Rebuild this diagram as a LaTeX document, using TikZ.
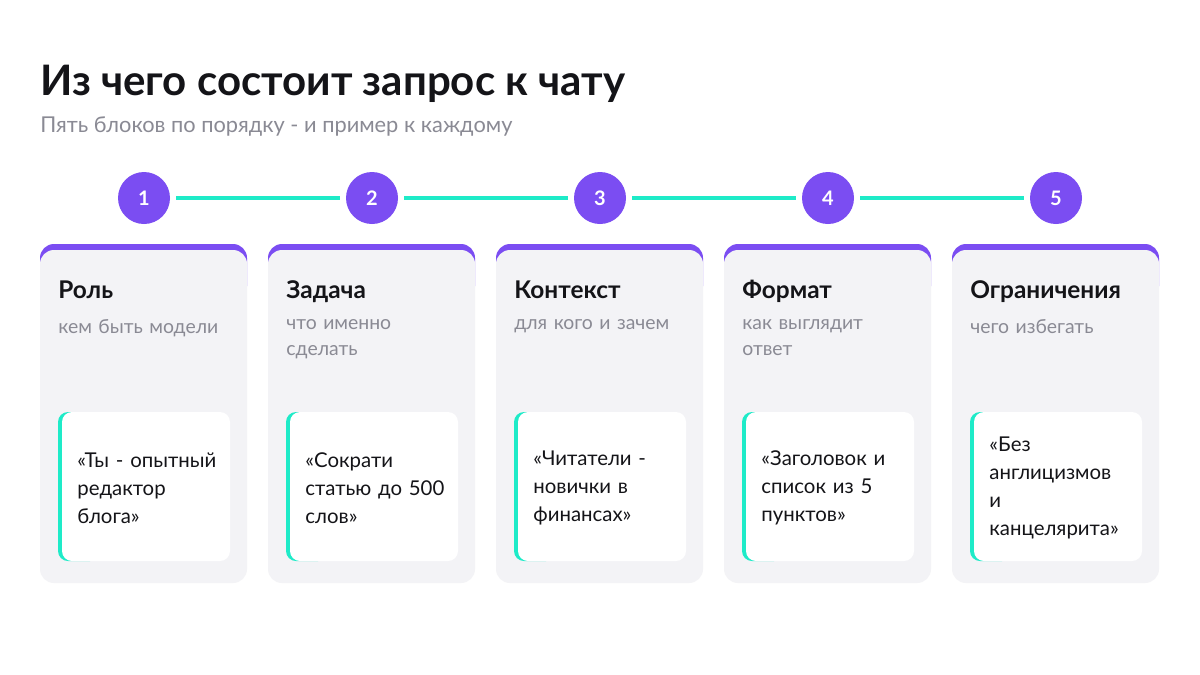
\documentclass[tikz,border=0pt]{standalone}
\usepackage{fontspec}
\setmainfont{Lato}
\definecolor{violet}{HTML}{7B4DF2}
\definecolor{mint}{HTML}{1EEBC8}
\definecolor{cardgray}{HTML}{F3F3F6}
\definecolor{txtgray}{HTML}{8A8A94}
\definecolor{ink}{HTML}{141418}
\tikzset{
  stepdot/.style={circle, fill=violet, minimum size=26pt, inner sep=0pt,
    text=white, font=\bfseries\fontsize{10}{12}\selectfont},
  cardtitle/.style={anchor=base west, inner sep=0pt, text=ink,
    font=\bfseries\fontsize{12.2}{14}\selectfont},
  carddesc/.style={anchor=north west, inner sep=0pt, text=txtgray, align=left,
    text width=88pt, font=\fontsize{9.7}{13}\selectfont},
  example/.style={anchor=west, inner sep=0pt, text=ink, align=left,
    text width=80pt, font=\fontsize{10.2}{14}\selectfont}
}
\begin{document}
\begin{tikzpicture}[x=0.5pt,y=-0.5pt]
    \useasboundingbox (0,0) rectangle (1200,675);
    \fill[white] (0,0) rectangle (1200,675);

    % Заголовок
    \node[anchor=base west, inner sep=0pt, text=ink, font=\bfseries\fontsize{21}{25}\selectfont]
        (title) at (40,95) {Из чего состоит запрос к чату};
    \node[anchor=base west, inner sep=0pt, text=txtgray, font=\fontsize{10.9}{13}\selectfont]
        (subtitle) at (40,132) {Пять блоков по порядку - и пример к каждому};

    % Карточки
    \foreach \i/\name/\desc/\ex in {
        1/Роль/кем быть модели/{«Ты - опытный\\редактор\\блога»},
        2/Задача/что именно\\сделать/{«Сократи\\статью до 500\\слов»},
        3/Контекст/для кого и зачем/{«Читатели -\\новички в\\финансах»},
        4/Формат/как выглядит\\ответ/{«Заголовок и\\список из 5\\пунктов»},
        5/Ограничения/чего избегать/{«Без\\англицизмов\\и\\канцелярита»}} {
        \pgfmathsetmacro{\x}{40+228*(\i-1)}
        % фон и верхняя полоса
        \begin{scope}[shift={(\x,0)}]
            \fill[violet, rounded corners=7pt] (0,244) rectangle (207,300);
            \fill[cardgray, rounded corners=7pt] (0,250) rectangle (207,583);
            \fill[cardgray] (0,275) rectangle (207,300);
            % пример
            \fill[mint, rounded corners=5pt] (18,412) rectangle (60,561);
            \fill[white, rounded corners=5pt] (22,412) rectangle (190,561);
        \end{scope}
        \node[stepdot] (s\i) at (\x+104,198) {\i};
        \node[cardtitle] (t\i) at (\x+18,298) {\name};
        \node[carddesc] (d\i) at (\x+18,319) {\desc};
        \node[example] (e\i) at (\x+37,488) {\ex};
    }

    % Линия шагов
    \foreach \a/\b in {1/2, 2/3, 3/4, 4/5}
        \draw[mint, line width=2pt] ([xshift=3pt]s\a.east) -- ([xshift=-3pt]s\b.west);
\end{tikzpicture}
\end{document}
